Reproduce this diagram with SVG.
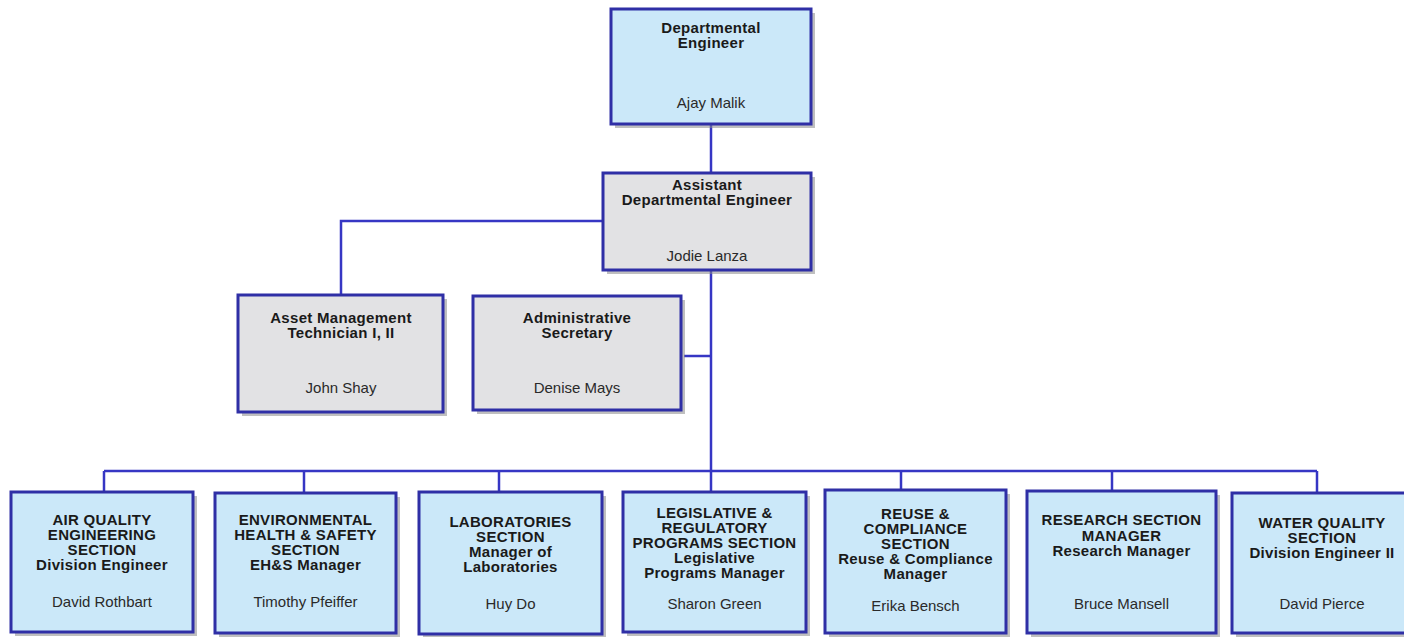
<svg xmlns="http://www.w3.org/2000/svg" width="1404" height="637" viewBox="0 0 1404 637">
  <style>
    .box { stroke: #2f2fa6; stroke-width: 3; }
    .blue { fill: #cbe8f9; }
    .grey { fill: #e2e2e4; }
    .shadow { fill: #8a8a8a; opacity: 0.55; }
    .title { font-family: "Liberation Sans", Arial, sans-serif; font-weight: bold; font-size: 15px; letter-spacing: 0.3px; fill: #1a1a1a; text-anchor: middle; }
    .name { font-family: "Liberation Sans", Arial, sans-serif; font-size: 15px; fill: #2a2a2a; text-anchor: middle; }
    .link { fill: none; stroke: #3636c4; stroke-width: 2.5; }
  </style>
  <rect width="1404" height="637" fill="#ffffff"/>

  <!-- connectors -->
  <g id="connectors">
    <path class="link" d="M711 124 V173"/>
    <path class="link" d="M603 221 H341 V295"/>
    <path class="link" d="M711 270 V492"/>
    <path class="link" d="M684 356 H711"/>
    <path class="link" d="M104 471 H1317"/>
    <path class="link" d="M104 471 V492"/>
    <path class="link" d="M304 471 V493"/>
    <path class="link" d="M499 471 V492"/>
    <path class="link" d="M901 471 V490"/>
    <path class="link" d="M1112 471 V491"/>
    <path class="link" d="M1317 471 V493"/>
  </g>

  <!-- Departmental Engineer -->
  <g id="dept-engineer">
    <rect class="shadow" x="615" y="13" width="200" height="115"/>
    <rect class="box blue" x="611" y="9" width="200" height="115"/>
    <text class="title" x="711" y="33">Departmental</text>
    <text class="title" x="711" y="48">Engineer</text>
    <text class="name" x="711" y="107.5">Ajay Malik</text>
  </g>

  <!-- Assistant Departmental Engineer -->
  <g id="asst-dept-engineer">
    <rect class="shadow" x="607" y="177" width="208" height="97"/>
    <rect class="box grey" x="603" y="173" width="208" height="97"/>
    <text class="title" x="707" y="190">Assistant</text>
    <text class="title" x="707" y="205">Departmental Engineer</text>
    <text class="name" x="707" y="260.5">Jodie Lanza</text>
  </g>

  <!-- Asset Management Technician -->
  <g id="asset-mgmt">
    <rect class="shadow" x="242" y="299" width="205" height="117"/>
    <rect class="box grey" x="238" y="295" width="205" height="117"/>
    <text class="title" x="341" y="323">Asset Management</text>
    <text class="title" x="341" y="338">Technician I, II</text>
    <text class="name" x="341" y="392.5">John Shay</text>
  </g>

  <!-- Administrative Secretary -->
  <g id="admin-secretary">
    <rect class="shadow" x="477" y="300" width="208" height="114"/>
    <rect class="box grey" x="473" y="296" width="208" height="114"/>
    <text class="title" x="577" y="322.5">Administrative</text>
    <text class="title" x="577" y="337.5">Secretary</text>
    <text class="name" x="577" y="392.5">Denise Mays</text>
  </g>

  <!-- Air Quality Engineering Section -->
  <g id="air-quality">
    <rect class="shadow" x="15" y="496" width="182" height="140"/>
    <rect class="box blue" x="11" y="492" width="182" height="140"/>
    <text class="title" x="102" y="525">AIR QUALITY</text>
    <text class="title" x="102" y="540">ENGINEERING</text>
    <text class="title" x="102" y="555">SECTION</text>
    <text class="title" x="102" y="570">Division Engineer</text>
    <text class="name" x="102" y="606.5">David Rothbart</text>
  </g>

  <!-- Environmental Health & Safety Section -->
  <g id="ehs">
    <rect class="shadow" x="219" y="497" width="181" height="140"/>
    <rect class="box blue" x="215" y="493" width="181" height="140"/>
    <text class="title" x="305.5" y="525">ENVIRONMENTAL</text>
    <text class="title" x="305.5" y="540">HEALTH &amp; SAFETY</text>
    <text class="title" x="305.5" y="555">SECTION</text>
    <text class="title" x="305.5" y="570">EH&amp;S Manager</text>
    <text class="name" x="305.5" y="606.5">Timothy Pfeiffer</text>
  </g>

  <!-- Laboratories Section -->
  <g id="laboratories">
    <rect class="shadow" x="423" y="496" width="183" height="142"/>
    <rect class="box blue" x="419" y="492" width="183" height="142"/>
    <text class="title" x="510.5" y="527">LABORATORIES</text>
    <text class="title" x="510.5" y="542">SECTION</text>
    <text class="title" x="510.5" y="557">Manager of</text>
    <text class="title" x="510.5" y="572">Laboratories</text>
    <text class="name" x="510.5" y="608.5">Huy Do</text>
  </g>

  <!-- Legislative & Regulatory Programs Section -->
  <g id="legislative">
    <rect class="shadow" x="627" y="496" width="183" height="140"/>
    <rect class="box blue" x="623" y="492" width="183" height="140"/>
    <text class="title" x="714.5" y="518">LEGISLATIVE &amp;</text>
    <text class="title" x="714.5" y="533">REGULATORY</text>
    <text class="title" x="714.5" y="548">PROGRAMS SECTION</text>
    <text class="title" x="714.5" y="563">Legislative</text>
    <text class="title" x="714.5" y="578">Programs Manager</text>
    <text class="name" x="714.5" y="608.5">Sharon Green</text>
  </g>

  <!-- Reuse & Compliance Section -->
  <g id="reuse-compliance">
    <rect class="shadow" x="829" y="494" width="181" height="143"/>
    <rect class="box blue" x="825" y="490" width="181" height="143"/>
    <text class="title" x="915.5" y="519">REUSE &amp;</text>
    <text class="title" x="915.5" y="534">COMPLIANCE</text>
    <text class="title" x="915.5" y="549">SECTION</text>
    <text class="title" x="915.5" y="564">Reuse &amp; Compliance</text>
    <text class="title" x="915.5" y="579">Manager</text>
    <text class="name" x="915.5" y="610.5">Erika Bensch</text>
  </g>

  <!-- Research Section -->
  <g id="research">
    <rect class="shadow" x="1031" y="495" width="189" height="142"/>
    <rect class="box blue" x="1027" y="491" width="189" height="142"/>
    <text class="title" x="1121.5" y="525">RESEARCH  SECTION</text>
    <text class="title" x="1121.5" y="540.5">MANAGER</text>
    <text class="title" x="1121.5" y="555.5">Research Manager</text>
    <text class="name" x="1121.5" y="608.5">Bruce Mansell</text>
  </g>

  <!-- Water Quality Section -->
  <g id="water-quality">
    <rect class="shadow" x="1236" y="497" width="180" height="140"/>
    <rect class="box blue" x="1232" y="493" width="180" height="140"/>
    <text class="title" x="1322" y="528">WATER QUALITY</text>
    <text class="title" x="1322" y="543">SECTION</text>
    <text class="title" x="1322" y="558">Division Engineer II</text>
    <text class="name" x="1322" y="608.5">David Pierce</text>
  </g>
</svg>
